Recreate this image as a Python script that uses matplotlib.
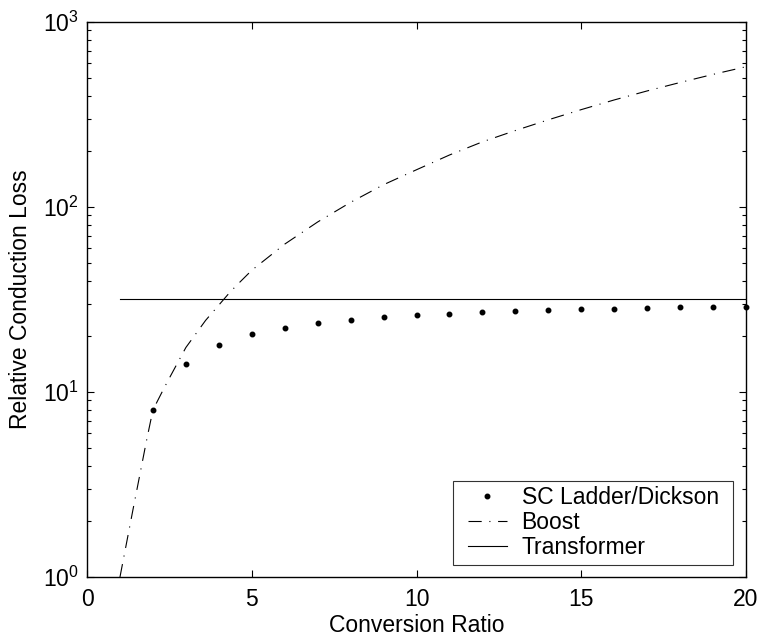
import numpy as np
import matplotlib
matplotlib.use("Agg")
import matplotlib.pyplot as plt
from matplotlib.lines import Line2D
from matplotlib.legend_handler import HandlerLine2D

plt.rcParams['font.family'] = ['Liberation Sans', 'DejaVu Sans']
plt.rcParams['lines.scale_dashes'] = False

# SC ladder / Dickson (dots)
sc_ratio = [2, 3, 4, 5, 6, 7, 8, 9, 10, 11, 12, 13, 14, 15, 16, 17, 18, 19, 20]
sc_loss = [8.0, 14.2, 18.0, 20.5, 22.3, 23.5, 24.5, 25.3, 26.0, 26.5, 27.0,
           27.4, 27.6, 28.0, 28.1, 28.3, 28.7, 28.8, 28.9]

# Boost (dash-dot)
boost_ratio = [1.0, 1.2, 1.4, 1.6, 1.8, 2.0, 2.35, 2.5, 3.0, 3.6, 4.28, 4.5, 5.0,
               6, 7, 8, 9, 10, 11, 12, 13, 14, 15, 16, 17, 18, 19, 20]
boost_loss = [1.0, 1.53, 2.34, 3.55, 5.4, 8.0, 10.6, 11.9, 17.4, 24.4, 33.7, 37.1, 45.5,
              63, 83, 106, 132, 159, 191, 225, 259, 296, 336, 379, 424, 471, 521, 573]

# Transformer (solid)
tr_ratio = [1, 20]
tr_loss = [32.0, 32.0]

fs = 16.5

fig = plt.figure(figsize=(7.6, 6.41), dpi=100)
ax = fig.add_axes([0.1145, 0.0998, 0.8671, 0.8659])

ax.plot(sc_ratio, sc_loss, 'k.', markersize=6.5, linestyle='none',
        label='SC Ladder/Dickson', clip_on=False)
ax.plot(boost_ratio, boost_loss, color='k', linewidth=0.8,
        linestyle=(0, (9.5, 5.5, 0.8, 5.5)), label='Boost')
ax.plot(tr_ratio, tr_loss, color='k', linewidth=0.8, label='Transformer')

ax.set_yscale('log')
ax.set_xlim(0, 20)
ax.set_ylim(1, 1000)
ax.set_xticks([0, 5, 10, 15, 20])
ax.tick_params(which='both', direction='in', top=True, right=True,
               labelsize=fs, width=0.8)
ax.tick_params(which='major', length=5)
ax.tick_params(which='minor', length=3)
ax.tick_params(axis='x', which='both', pad=8)
ax.tick_params(axis='y', which='both', pad=6)
for s in ax.spines.values():
    s.set_linewidth(1.0)

ax.set_xlabel('Conversion Ratio', fontsize=fs, labelpad=2)
ax.set_ylabel('Relative Conduction Loss', fontsize=fs)
ax.yaxis.set_label_coords(-0.083, 0.5)

leg = ax.legend(loc='lower left', bbox_to_anchor=(0.555, 0.022, 0.426, 0.15),
                mode='expand', borderaxespad=0, fontsize=fs, frameon=True,
                fancybox=False, edgecolor='k', handlelength=2.1,
                handletextpad=0.65, borderpad=0.25, labelspacing=0.08,
                handler_map={Line2D: HandlerLine2D(xpad=0.4)})
leg.get_frame().set_linewidth(0.8)

fig.savefig('out.png', dpi=100)
